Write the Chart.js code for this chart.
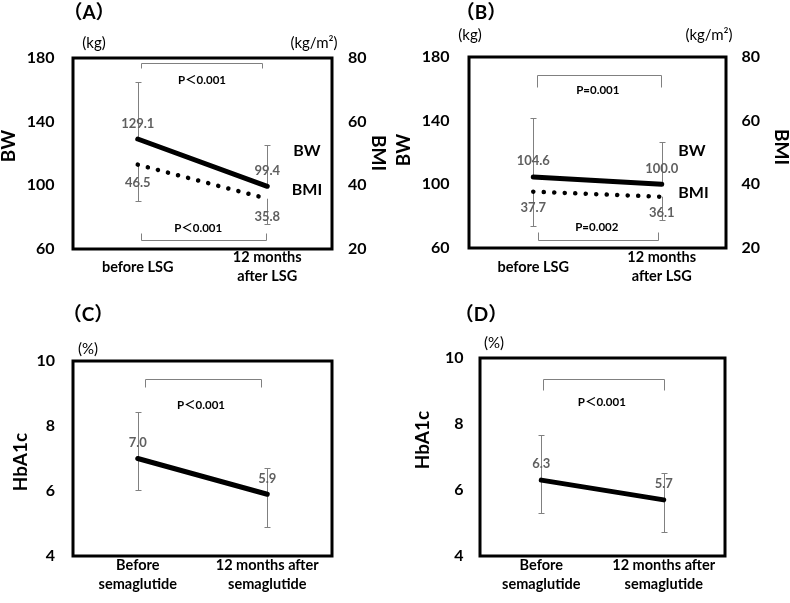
<!DOCTYPE html>
<html>
<head>
<meta charset="utf-8">
<script src="https://cdn.jsdelivr.net/npm/chart.js@4"></script>
<style>
html,body{margin:0;padding:0;background:#fff;}
#wrap{position:relative;width:790px;height:603px;overflow:hidden;background:#fff;}
canvas{position:absolute;}
</style>
</head>
<body>
<div id="wrap">
  <canvas id="cA" width="395" height="300" style="left:0;top:0"></canvas>
  <canvas id="cB" width="395" height="300" style="left:395px;top:0"></canvas>
  <canvas id="cC" width="395" height="303" style="left:0;top:300px"></canvas>
  <canvas id="cD" width="395" height="303" style="left:395px;top:300px"></canvas>
</div>
<script>
// ---------------- data ----------------
const lsgLabels  = ['before LSG', ['12 months', 'after LSG']];
const semaLabels = [['Before', 'semaglutide'], ['12 months after', 'semaglutide']];

const bwTicks  = [60, 100, 140, 180];
const bmiTicks = [20, 40, 60, 80];
const hbTicks  = [4, 6, 8, 10];

const bwA         = [129.1, 99.4];
const bwAErrUp    = [36.0, 26.0];
const bmiA        = [46.5, 35.8];
const bmiAErrDown = [11.3, 8.0];

const bwB         = [104.6, 100.0];
const bwBErrUp    = [36.8, 26.8];
const bmiB        = [37.7, 36.1];
const bmiBErrDown = [10.9, 7.2];

const hbC         = [7.0, 5.9];
const hbCErrUp    = [1.42, 0.80];
const hbCErrDown  = [0.97, 1.00];

const hbD         = [6.3, 5.7];
const hbDErrUp    = [1.38, 0.82];
const hbDErrDown  = [1.01, 0.96];

const pA_BW = 'P＜0.001', pA_BMI = 'P＜0.001';
const pB_BW = 'P=0.001', pB_BMI = 'P=0.002';
const pC = 'P＜0.001', pD = 'P＜0.001';

// ---------------- style ----------------
const FONT = "Lato, 'Noto Sans CJK JP', sans-serif";
const GRAY_TXT = '#5f5f5f';
const GRAY_LINE = '#808080';

function decor(cfg) {
  return {
    id: 'decor',
    beforeDatasetsDraw(chart) {
      const ctx = chart.ctx;
      ctx.save();
      ctx.strokeStyle = GRAY_LINE;
      ctx.lineWidth = 1;
      // error bars
      (cfg.errorBars || []).forEach(eb => {
        const meta = chart.getDatasetMeta(eb.dataset);
        const ys = chart.scales[meta.yAxisID];
        const vals = chart.data.datasets[eb.dataset].data;
        meta.data.forEach((pt, j) => {
          const x = Math.round(pt.x) + 0.5;
          [['up', 1], ['down', -1]].forEach(([k, s]) => {
            if (!eb[k]) return;
            const y1 = Math.round(ys.getPixelForValue(vals[j] + s * eb[k][j])) + 0.5;
            ctx.beginPath();
            ctx.moveTo(x, pt.y);
            ctx.lineTo(x, y1);
            ctx.moveTo(x - 3, y1);
            ctx.lineTo(x + 3, y1);
            ctx.stroke();
          });
        });
      });
      // brackets
      const xs = chart.scales.x;
      (cfg.brackets || []).forEach(b => {
        const ys = chart.scales[b.axis];
        const x0 = Math.round(xs.getPixelForValue(0) + b.dx0) + 0.5;
        const x1 = Math.round(xs.getPixelForValue(1) + b.dx1) + 0.5;
        const y = Math.round(ys.getPixelForValue(b.y)) + 0.5;
        ctx.strokeStyle = GRAY_LINE;
        ctx.beginPath();
        ctx.moveTo(x0, y + b.tick);
        ctx.lineTo(x0, y);
        ctx.lineTo(x1, y);
        ctx.lineTo(x1, y + b.tick);
        ctx.stroke();
        ctx.fillStyle = '#000';
        ctx.font = 'bold 11.5px ' + FONT;
        ctx.textAlign = 'center';
        ctx.textBaseline = 'middle';
        ctx.fillText(b.text, (x0 + x1) / 2 + b.tdx, ys.getPixelForValue(b.ty));
      });
      ctx.restore();
    },
    afterDatasetsDraw(chart) {
      const ctx = chart.ctx;
      const a = chart.chartArea;
      ctx.save();
      // value labels
      (cfg.valueLabels || []).forEach(vl => {
        const meta = chart.getDatasetMeta(vl.dataset);
        const vals = chart.data.datasets[vl.dataset].data;
        ctx.fillStyle = GRAY_TXT;
        ctx.font = 'bold 13px ' + FONT;
        ctx.textAlign = 'center';
        ctx.textBaseline = 'middle';
        meta.data.forEach((pt, j) => {
          ctx.fillText(vals[j].toFixed(1), pt.x, pt.y + vl.dy);
        });
      });
      // series labels
      (cfg.seriesLabels || []).forEach(sl => {
        const meta = chart.getDatasetMeta(sl.dataset);
        const last = meta.data[meta.data.length - 1];
        const ys = chart.scales[meta.yAxisID];
        ctx.fillStyle = '#000';
        ctx.font = 'bold 16px ' + FONT;
        ctx.textAlign = 'left';
        ctx.textBaseline = 'middle';
        ctx.fillText(chart.data.datasets[sl.dataset].label, last.x + sl.dx, ys.getPixelForValue(sl.value));
      });
      // plot box
      ctx.strokeStyle = '#000';
      ctx.lineWidth = 3;
      ctx.strokeRect(a.left, a.top, a.right - a.left, a.bottom - a.top);
      ctx.restore();
    },
    afterDraw(chart) {
      const ctx = chart.ctx;
      ctx.save();
      ctx.fillStyle = '#000';
      ctx.textAlign = 'center';
      ctx.textBaseline = 'middle';
      (cfg.texts || []).forEach(t => {
        ctx.font = t.font;
        ctx.fillText(t.text, t.x, t.y);
      });
      (cfg.vtitles || []).forEach(t => {
        ctx.save();
        ctx.font = 'bold 19px ' + FONT;
        ctx.translate(t.x, t.y);
        ctx.rotate(t.rot);
        ctx.fillText(t.text, 0, 0);
        ctx.restore();
      });
      ctx.restore();
    }
  };
}

function panel(id, W, H, area, labels, datasets, yAxes, xPad, cfg) {
  const scales = {
    x: {
      type: 'category', offset: true,
      grid: {display: false, drawTicks: false}, border: {display: false},
      ticks: {color: '#000', padding: xPad, crossAlign: 'center', maxRotation: 0, autoSkip: false,
              font: {family: FONT, size: 14.5, weight: 'bold', lineHeight: 1.3}},
      afterFit: s => { s.height = H - area.bottom; }
    }
  };
  let hasRight = false;
  yAxes.forEach(ax => {
    if (ax.position === 'right') hasRight = true;
    scales[ax.id] = {
      type: 'linear', position: ax.position, min: ax.min, max: ax.max,
      grid: {display: false, drawTicks: false}, border: {display: false},
      ticks: {color: '#000', padding: ax.pad, font: {family: FONT, size: 16, weight: 'bold'}},
      afterBuildTicks: s => { s.ticks = ax.ticks.map(v => ({value: v})); },
      afterFit: s => { s.width = ax.position === 'left' ? area.left : W - area.right; }
    };
  });
  return new Chart(document.getElementById(id), {
    type: 'line',
    data: {labels: labels, datasets: datasets},
    options: {
      responsive: false, animation: false, devicePixelRatio: 1,
      layout: {padding: {top: area.top, left: 0, bottom: 0, right: hasRight ? 0 : W - area.right}},
      plugins: {legend: {display: false}, tooltip: {enabled: false}},
      elements: {point: {radius: 0}, line: {tension: 0}},
      scales: scales
    },
    plugins: [decor(cfg)]
  });
}

function solid(label, data, axis) {
  return {label: label, data: data, yAxisID: axis, borderColor: '#000', borderWidth: 5,
          borderCapStyle: 'round', pointRadius: 0, fill: false};
}
function dotted(label, data, axis, gap) {
  return {label: label, data: data, yAxisID: axis, borderColor: '#000', borderWidth: 4.5,
          borderDash: [0.1, gap], borderCapStyle: 'round', pointRadius: 0, fill: false};
}

const PAREN = 'bold 19px ' + FONT;
const UNIT = '15px ' + FONT;

// ---------- (A) ----------
panel('cA', 395, 300, {left: 73, right: 332, top: 58, bottom: 249}, lsgLabels,
  [solid('BW', bwA, 'y'), dotted('BMI', bmiA, 'y1', 10.3)],
  [{id: 'y', position: 'left', min: 60, max: 180, ticks: bwTicks, pad: 18.5},
   {id: 'y1', position: 'right', min: 20, max: 80, ticks: bmiTicks, pad: 16}],
  8.6,
  {
    errorBars: [{dataset: 0, up: bwAErrUp}, {dataset: 1, down: bmiAErrDown}],
    brackets: [
      {axis: 'y', y: 176.9, tick: 5, dx0: 3, dx1: -5.5, text: pA_BW, ty: 166.2, tdx: 0},
      {axis: 'y', y: 65.7, tick: -7, dx0: 3, dx1: -1.5, text: pA_BMI, ty: 73, tdx: -5.8}
    ],
    valueLabels: [{dataset: 0, dy: -15}, {dataset: 1, dy: 18}],
    seriesLabels: [{dataset: 0, value: 121.6, dx: 26}, {dataset: 1, value: 38.5, dx: 24.5}],
    texts: [
      {text: '（A）', x: 89, y: 13, font: PAREN},
      {text: '(kg)', x: 94, y: 43, font: UNIT},
      {text: '(kg/m²)', x: 314, y: 43, font: UNIT}
    ],
    vtitles: [
      {text: 'BW', x: 9, y: 146, rot: -Math.PI / 2},
      {text: 'BMI', x: 378, y: 153, rot: Math.PI / 2}
    ]
  });

// ---------- (B) ----------
panel('cB', 395, 300, {left: 74, right: 331, top: 57, bottom: 248}, lsgLabels,
  [solid('BW', bwB, 'y'), dotted('BMI', bmiB, 'y1', 10.4)],
  [{id: 'y', position: 'left', min: 60, max: 180, ticks: bwTicks, pad: 19.5},
   {id: 'y1', position: 'right', min: 20, max: 80, ticks: bmiTicks, pad: 15.5}],
  9.5,
  {
    errorBars: [{dataset: 0, up: bwBErrUp}, {dataset: 1, down: bmiBErrDown}],
    brackets: [
      {axis: 'y', y: 169, tick: 12, dx0: 3.5, dx1: -0.75, text: pB_BW, ty: 159.1, tdx: -1.7},
      {axis: 'y', y: 65.2, tick: -8, dx0: 5, dx1: -3.5, text: pB_BMI, ty: 72.9, tdx: -1.7}
    ],
    valueLabels: [{dataset: 0, dy: -16}, {dataset: 1, dy: 16.5}],
    seriesLabels: [{dataset: 0, value: 121, dx: 16.5}, {dataset: 1, value: 37.2, dx: 16.5}],
    texts: [
      {text: '（B）', x: 86, y: 13, font: PAREN},
      {text: '(kg)', x: 75, y: 35, font: UNIT},
      {text: '(kg/m²)', x: 314, y: 35, font: UNIT}
    ],
    vtitles: [
      {text: 'BW', x: 9, y: 150, rot: -Math.PI / 2},
      {text: 'BMI', x: 386, y: 147, rot: Math.PI / 2}
    ]
  });

// ---------- (C) ----------
panel('cC', 395, 303, {left: 73, right: 332, top: 61, bottom: 256}, semaLabels,
  [solid('HbA1c', hbC, 'y')],
  [{id: 'y', position: 'left', min: 4, max: 10, ticks: hbTicks, pad: 18}],
  9.6,
  {
    errorBars: [{dataset: 0, up: hbCErrUp, down: hbCErrDown}],
    brackets: [
      {axis: 'y', y: 9.45, tick: 8, dx0: 7, dx1: -6, text: pC, ty: 8.65, tdx: -2.5}
    ],
    valueLabels: [{dataset: 0, dy: -15.5}],
    texts: [
      {text: '（C）', x: 88, y: 15, font: PAREN},
      {text: '(%)', x: 88, y: 49, font: UNIT}
    ],
    vtitles: [
      {text: 'HbA1c', x: 21, y: 162, rot: -Math.PI / 2}
    ]
  });

// ---------- (D) ----------
panel('cD', 395, 303, {left: 85, right: 330, top: 58, bottom: 256}, semaLabels,
  [solid('HbA1c', hbD, 'y')],
  [{id: 'y', position: 'left', min: 4, max: 10, ticks: hbTicks, pad: 16.5}],
  9.6,
  {
    errorBars: [{dataset: 0, up: hbDErrUp, down: hbDErrDown}],
    brackets: [
      {axis: 'y', y: 9.36, tick: 11, dx0: 1.5, dx1: 0.5, text: pD, ty: 8.67, tdx: -2.2}
    ],
    valueLabels: [{dataset: 0, dy: -16}],
    texts: [
      {text: '（D）', x: 86, y: 15, font: PAREN},
      {text: '(%)', x: 99, y: 43, font: UNIT}
    ],
    vtitles: [
      {text: 'HbA1c', x: 27.5, y: 140, rot: -Math.PI / 2}
    ]
  });
</script>
</body>
</html>
